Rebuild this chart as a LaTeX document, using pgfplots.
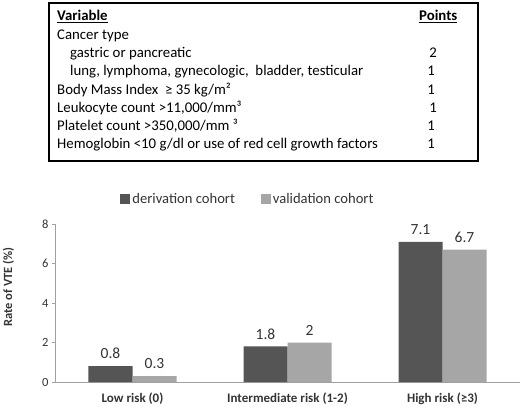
\documentclass[border=0pt]{standalone}
\usepackage{fontspec}
\setmainfont{Carlito}
\usepackage{pgfplots}
\pgfplotsset{compat=1.18}

\definecolor{derivgray}{HTML}{555555}
\definecolor{validgray}{HTML}{A6A6A6}
\definecolor{axisgray}{HTML}{A0A0A0}
\definecolor{txtgray}{HTML}{333333}

\begin{document}
\begin{tikzpicture}
\useasboundingbox (0,0) rectangle (520bp,-407bp);

% score table above the chart
\draw[line width=1.4bp] (49bp,-3bp) rectangle (478bp,-161bp);
\begin{scope}[every node/.style={anchor=base west, inner sep=0pt, font=\fontsize{14.8bp}{16bp}\selectfont}]
\node at (57bp,-20.7bp) {\textbf{\underline{Variable}}};
\node at (419bp,-20.7bp) {\textbf{\underline{Points}}};
\node at (57bp,-39.3bp) {Cancer type};
\node at (70bp,-57.5bp) {gastric or pancreatic};
\node at (70bp,-75.8bp) {lung, lymphoma, gynecologic,\ \ bladder, testicular};
\node at (57bp,-94bp) {Body Mass Index\ \ ≥ 35 kg/m²};
\node at (57bp,-112.3bp) {Leukocyte count >11,000/mm³};
\node at (57bp,-130.5bp) {Platelet count >350,000/mm ³};
\node at (57bp,-148.7bp) {Hemoglobin <10 g/dl or use of red cell growth factors};
\end{scope}
\begin{scope}[every node/.style={anchor=base, inner sep=0pt, font=\fontsize{14.8bp}{16bp}\selectfont}]
\node at (433bp,-57.5bp) {2};
\node at (431bp,-75.8bp) {1};
\node at (431bp,-94bp) {1};
\node at (433bp,-112.3bp) {1};
\node at (431bp,-130.5bp) {1};
\node at (431bp,-148.7bp) {1};
\end{scope}

\begin{axis}[
    at={(55bp,-382bp)}, anchor=south west,
    scale only axis,
    width=465bp, height=158bp,
    ybar=0pt, bar width=44bp,
    xmin=-0.5, xmax=2.5,
    ymin=0, ymax=8,
    xtick=data,
    xticklabels={Low risk (0), Intermediate risk (1-2), High risk (≥3)},
    x tick label style={font=\bfseries\fontsize{13bp}{15bp}\selectfont, text=txtgray, yshift=-4bp},
    major x tick style={draw=none},
    ytick={0,2,4,6,8},
    y tick label style={font=\fontsize{12.5bp}{14bp}\selectfont, text=txtgray},
    /pgf/number format/assume math mode=true,
    tick align=outside,
    major tick length=3bp,
    tick style={axisgray},
    axis x line*=bottom, axis y line*=left,
    axis line style={axisgray, -},
    ylabel={\textbf{Rate of VTE (\%)}},
    ylabel style={font=\fontsize{12.5bp}{14bp}\selectfont, text=txtgray, at={(axis description cs:-0.1,0.6)}, anchor=center},
    nodes near coords,
    every node near coord/.append style={font=\fontsize{15.5bp}{17bp}\selectfont, text=txtgray, inner sep=0pt, yshift=7bp},
    legend style={draw=none, fill=none, at={(0.415,1.158)}, anchor=center,
        legend columns=2, font=\fontsize{14.6bp}{16bp}\selectfont, text=txtgray,
        /tikz/every even column/.append style={column sep=24bp},
        inner sep=0pt},
    legend image code/.code={\path[#1, draw=none] (0bp,-5bp) rectangle (10bp,5bp);},
    legend cell align=left,
]
\addplot[fill=derivgray, draw=none] coordinates {(0,0.8) (1,1.8) (2,7.1)};
\addplot[fill=validgray, draw=none] coordinates {(0,0.3) (1,2) (2,6.7)};
\legend{derivation cohort, validation cohort}
\end{axis}
\end{tikzpicture}
\end{document}
